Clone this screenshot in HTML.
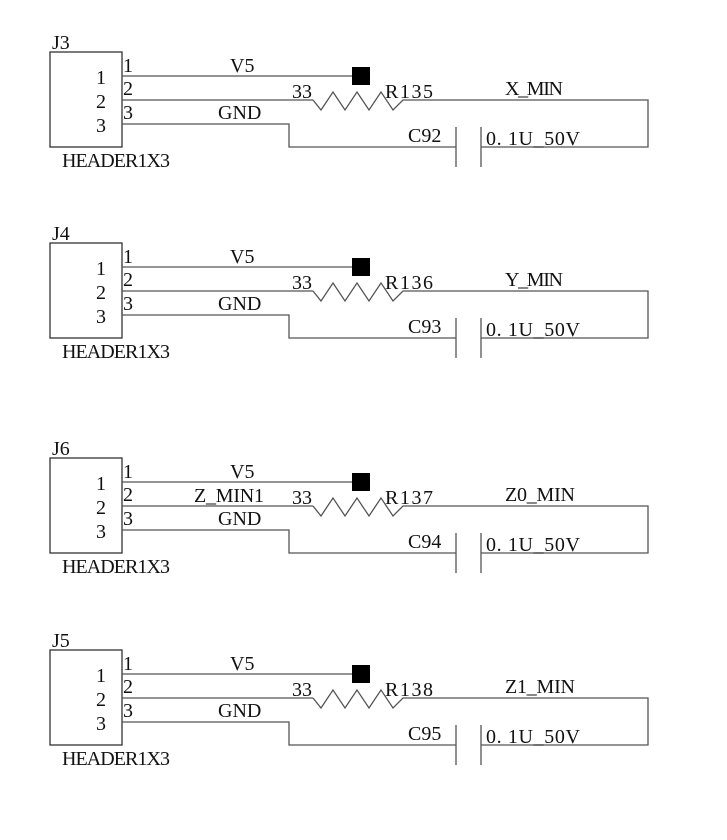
<!DOCTYPE html>
<html><head><meta charset="utf-8"><style>
html,body{margin:0;padding:0;background:#fff;}
svg{display:block}
text{font-family:"Liberation Serif","Noto Serif CJK SC",serif;font-size:20px;fill:#111}
</style></head><body>
<svg width="727" height="840" viewBox="0 0 727 840" xmlns="http://www.w3.org/2000/svg">
<defs>
<g id="blk">
  <rect x="50" y="52" width="72" height="95" fill="none" stroke="#333" stroke-width="1.3"/>
  <g fill="none" stroke="#555" stroke-width="1.3">
    <polyline points="122,76 352,76"/>
    <polyline points="122,100 313,100"/>
    <polyline points="313,100 321,110 333,92 345,110 357,92 369,110 381,92 393,110 403,100 648,100 648,147 481,147"/>
    <polyline points="122,124 289,124 289,147 456,147"/>
    <line x1="456" y1="127" x2="456" y2="167"/>
    <line x1="481" y1="127" x2="481" y2="167"/>
  </g>
  <rect x="352" y="67" width="18" height="18" fill="#000"/>
  <text x="96" y="84">1</text>
  <text x="96" y="108">2</text>
  <text x="96" y="132">3</text>
  <text x="123" y="72">1</text>
  <text x="123" y="95">2</text>
  <text x="123" y="119">3</text>
  <text x="230" y="72">V5</text>
  <text x="292" y="98">33</text>
  <text x="218" y="119">GND</text>
  <text x="62" y="167" textLength="108">HEADER1X3</text>
  <text x="486" y="145" textLength="94">0. 1U_50V</text>
</g>
</defs>
<use href="#blk"/>
<text x="52" y="49">J3</text><text x="385" y="98" textLength="48">R135</text><text x="505" y="95" textLength="58">X_MIN</text><text x="408" y="142">C92</text>
<g transform="translate(0,191)"><use href="#blk"/>
<text x="52" y="49">J4</text><text x="385" y="98" textLength="48">R136</text><text x="505" y="95" textLength="58">Y_MIN</text><text x="408" y="142">C93</text></g>
<g transform="translate(0,406)"><use href="#blk"/>
<text x="52" y="49">J6</text><text x="385" y="98" textLength="48">R137</text><text x="505" y="95" textLength="70">Z0_MIN</text><text x="408" y="142">C94</text><text x="194" y="96" textLength="70">Z_MIN1</text></g>
<g transform="translate(0,598)"><use href="#blk"/>
<text x="52" y="49">J5</text><text x="385" y="98" textLength="48">R138</text><text x="505" y="95" textLength="70">Z1_MIN</text><text x="408" y="142">C95</text></g>
</svg>
</body></html>
